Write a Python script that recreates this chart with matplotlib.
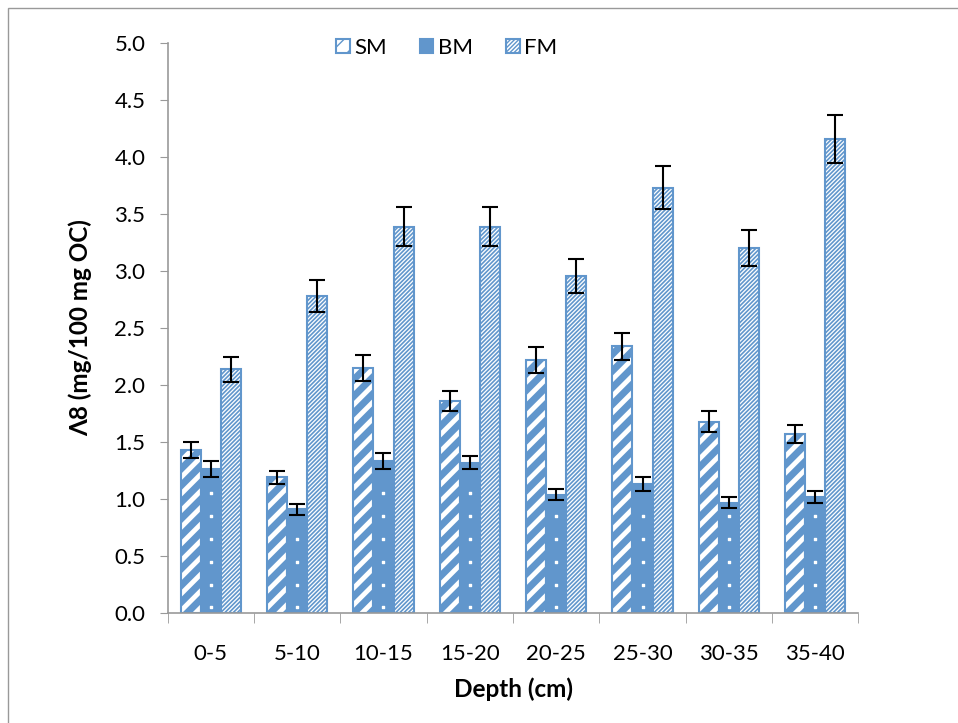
import numpy as np
import matplotlib.pyplot as plt
from matplotlib.patches import Rectangle

plt.rcParams['font.family'] = ['Lato', 'DejaVu Sans']

depths = ['0-5', '5-10', '10-15', '15-20', '20-25', '25-30', '30-35', '35-40']
sm = [1.43, 1.19, 2.15, 1.86, 2.22, 2.34, 1.68, 1.57]
sm_err = [0.07, 0.06, 0.11, 0.09, 0.11, 0.12, 0.09, 0.08]
bm = [1.26, 0.91, 1.33, 1.32, 1.04, 1.13, 0.97, 1.02]
bm_err = [0.07, 0.05, 0.07, 0.06, 0.05, 0.06, 0.05, 0.05]
fm = [2.14, 2.78, 3.39, 3.39, 2.96, 3.73, 3.20, 4.16]
fm_err = [0.11, 0.14, 0.17, 0.17, 0.15, 0.19, 0.16, 0.21]

blue = '#6196CC'

fig = plt.figure(figsize=(9.58, 7.23), dpi=100)
ax = fig.add_axes([0.175, 0.152, 0.721, 0.7885])

x = np.arange(len(depths))
w = 0.233
ekw = dict(ecolor='black', elinewidth=1.5, capsize=6, capthick=1.5)

b1 = ax.bar(x - w, sm, w, color='white', edgecolor=blue, hatch='//', linewidth=1.5,
            yerr=sm_err, error_kw=ekw, label='SM')
b2 = ax.bar(x, bm, w, color=blue, edgecolor=blue, linewidth=1.5,
            yerr=bm_err, error_kw=ekw, label='BM')
b3 = ax.bar(x + w, fm, w, color='white', edgecolor=blue, hatch='////////', linewidth=1.5,
            yerr=fm_err, error_kw=ekw, label='FM')
for p in b1:
    if hasattr(p, 'set_hatch_linewidth'):
        p.set_hatch_linewidth(5)
for p in b3:
    if hasattr(p, 'set_hatch_linewidth'):
        p.set_hatch_linewidth(1.2)
# white dots on the BM bars
for xi, v in zip(x, bm):
    ys = np.arange(0.05, v - 0.1, 0.2)
    ax.scatter(np.full(len(ys), xi), ys, s=4, color='white', zorder=3, marker='s')

ax.set_xlim(-0.5, len(depths) - 0.5)
ax.set_ylim(0, 5.0)
ax.set_yticks(np.arange(0, 5.01, 0.5))
ax.set_yticklabels([f'{v:.1f}' for v in np.arange(0, 5.01, 0.5)])
ax.set_xticks(x)
ax.set_xticklabels(depths)
ax.set_xticks(np.arange(-0.5, len(depths)), minor=True)
ax.tick_params(axis='x', which='major', length=0, pad=22, labelsize=16)
ax.tick_params(axis='x', which='minor', length=7, color='#999999', direction='out')
ax.tick_params(axis='y', length=6, color='#999999', labelsize=16, pad=10)
for s in ['top', 'right']:
    ax.spines[s].set_visible(False)
for s in ['left', 'bottom']:
    ax.spines[s].set_color('#999999')
    ax.spines[s].set_linewidth(1.2)

ax.set_xlabel('Depth (cm)', fontsize=17.5, fontweight='bold', labelpad=10)
ax.set_ylabel('Λ8 (mg/100 mg OC)', fontsize=17.5, fontweight='bold', labelpad=16)

ax.legend(loc='center', bbox_to_anchor=(0.404, 0.991), ncol=3, frameon=False,
          fontsize=16, handlelength=0.6, handleheight=0.6, handletextpad=0.2,
          columnspacing=1.5)

fig.patches.append(Rectangle((0.008, -0.1), 1.2, 1.089, transform=fig.transFigure,
                             fill=False, edgecolor='#999999', linewidth=1))

fig.savefig('out.png', dpi=100)
